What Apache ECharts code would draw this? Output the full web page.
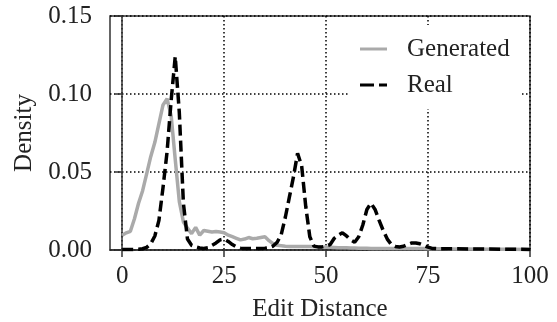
<!DOCTYPE html>
<html>
<head>
<meta charset="utf-8">
<script src="https://cdn.jsdelivr.net/npm/echarts@6/dist/echarts.min.js"></script>
<style>
  html, body { margin: 0; padding: 0; background: #fff; }
  #Chart { width: 557px; height: 322px; }
</style>
</head>
<body>
<div id="Chart"></div>
<script>
var fontFamily = '"Liberation Serif", "DejaVu Serif", serif';
var textColor = '#222';
var axisColor = '#333';
var fontSize = 25;

// edit distance positions (x)
var distance = [0, 1, 2, 3, 4, 5, 6, 7, 8, 9,
    10, 11, 12, 13, 14, 15, 16, 17, 18, 19,
    20, 21, 22, 23, 24, 25, 26, 27, 28, 29,
    30, 31, 32, 33, 34, 35, 36, 37, 38, 39,
    40, 41, 42, 43, 44, 45, 46, 47, 48, 49,
    50, 51, 52, 53, 54, 55, 56, 57, 58, 59,
    60, 61, 62, 63, 64, 65, 66, 67, 68, 69,
    70, 71, 72, 73, 74, 75, 76, 77, 78, 79,
    80, 85, 90, 95, 100];

// Generated 密度
var generated = [0.0095, 0.011, 0.012, 0.020, 0.030, 0.038, 0.049, 0.060, 0.069, 0.081,
    0.093, 0.097, 0.086, 0.058, 0.031, 0.018, 0.014, 0.0105, 0.0145, 0.0095,
    0.0125, 0.012, 0.0115, 0.0118, 0.0115, 0.011, 0.0095, 0.0085, 0.0075, 0.0065,
    0.007, 0.008, 0.0072, 0.0075, 0.008, 0.0085, 0.006, 0.004, 0.003, 0.0027,
    0.0024, 0.0023, 0.0023, 0.0023, 0.0022, 0.0022, 0.0022, 0.0021, 0.002, 0.0019,
    0.0018, 0.0017, 0.0016, 0.0015, 0.0015, 0.0014, 0.0013, 0.0013, 0.0012, 0.0012,
    0.0011, 0.001, 0.001, 0.001, 0.001, 0.001, 0.001, 0.001, 0.001, 0.0009,
    0.0009, 0.0009, 0.0009, 0.0009, 0.0009, 0.0008, 0.0008, 0.0008, 0.0008, 0.0008,
    0.0007, 0.0006, 0.0005, 0.0005, 0.0004];

// Real 密度
var real = [0.0003, 0.0003, 0.0003, 0.0004, 0.0005, 0.0008, 0.0017, 0.004, 0.009, 0.019,
    0.040, 0.063, 0.096, 0.124, 0.088, 0.030, 0.007, 0.003, 0.002, 0.0013,
    0.001, 0.0015, 0.003, 0.0045, 0.0065, 0.007, 0.0055, 0.0035, 0.002, 0.0012,
    0.001, 0.001, 0.001, 0.001, 0.001, 0.0012, 0.0015, 0.0025, 0.005, 0.010,
    0.021, 0.034, 0.047, 0.062, 0.054, 0.028, 0.0085, 0.0025, 0.002, 0.002,
    0.0026, 0.0035, 0.0075, 0.0095, 0.011, 0.009, 0.0065, 0.005, 0.0085, 0.016,
    0.026, 0.030, 0.026, 0.019, 0.0125, 0.007, 0.0035, 0.0023, 0.0019, 0.0024,
    0.0035, 0.0045, 0.0045, 0.004, 0.003, 0.0018, 0.001, 0.0009, 0.0008, 0.0008,
    0.0008, 0.0007, 0.0006, 0.0005, 0.0004];

var xTicks = [0, 25, 50, 75, 100];

function pairs(xs, ys) {
    var out = [];
    for (var i = 0; i < xs.length; i++) {
        out.push([xs[i], ys[i]]);
    }
    return out;
}

var gridLine = {
    show: true,
    lineStyle: { color: '#000', width: 1.5, type: [1.5, 2.5] }
};

var myChart = echarts.init(document.getElementById('Chart'));
var option = {
    animation: false,
    grid: {
        show: true,
        left: 110,
        right: 27,
        top: 16,
        bottom: 72,
        borderColor: axisColor,
        borderWidth: 1.5,
        containLabel: false,
        outerBoundsMode: 'none'
    },
    legend: {
        orient: 'vertical',
        left: 350,
        top: 25,
        padding: [10, 12, 10, 10],
        backgroundColor: '#fff',
        itemWidth: 27,
        itemHeight: 3,
        itemGap: 8,
        textStyle: {
            fontFamily: fontFamily,
            fontSize: fontSize,
            lineHeight: 28,
            color: textColor,
            padding: [0, 0, 0, 15]
        },
        data: [
            { name: 'Generated', icon: 'path://M0,0h27v3h-27z' },
            { name: 'Real', icon: 'path://M0,0h14v3h-14z M19,0h8v3h-8z' }
        ]
    },
    xAxis: {
        type: 'value',
        min: -3,
        max: 100,
        name: 'Edit Distance',
        nameLocation: 'middle',
        nameGap: 47,
        nameTextStyle: { fontFamily: fontFamily, fontSize: fontSize, color: textColor },
        axisLine: { show: true, onZero: false, lineStyle: { color: axisColor, width: 1.5 } },
        axisTick: { show: true, length: 7, customValues: xTicks, lineStyle: { color: axisColor, width: 1.5 } },
        axisLabel: {
            customValues: xTicks,
            margin: 14,
            fontFamily: fontFamily,
            fontSize: fontSize,
            color: textColor
        },
        splitLine: gridLine
    },
    yAxis: {
        type: 'value',
        min: 0,
        max: 0.15,
        interval: 0.05,
        name: 'Density',
        nameLocation: 'middle',
        nameGap: 71,
        nameTextStyle: { fontFamily: fontFamily, fontSize: fontSize, color: textColor },
        axisLine: { show: true, lineStyle: { color: axisColor, width: 1.5 } },
        axisTick: { show: true, length: 7, lineStyle: { color: axisColor, width: 1.5 } },
        axisLabel: {
            margin: 18,
            fontFamily: fontFamily,
            fontSize: fontSize,
            color: textColor,
            formatter: function (v) { return v.toFixed(2); }
        },
        splitLine: gridLine
    },
    series: [
        {
            name: 'Generated',
            type: 'line',
            symbol: 'none',
            z: 2,
            itemStyle: { color: '#aaaaaa' },
            lineStyle: { color: '#aaaaaa', width: 3.5 },
            data: pairs(distance, generated)
        },
        {
            name: 'Real',
            type: 'line',
            symbol: 'none',
            z: 3,
            itemStyle: { color: '#000' },
            lineStyle: { color: '#000', width: 3.5, type: [11, 5] },
            data: pairs(distance, real)
        }
    ]
};
myChart.setOption(option);
</script>
</body>
</html>
